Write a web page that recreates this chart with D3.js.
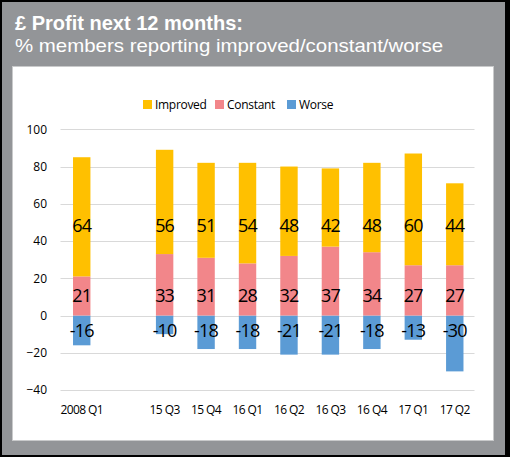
<!DOCTYPE html>
<html><head><meta charset="utf-8">
<script src="https://cdn.jsdelivr.net/npm/d3@7"></script>
<style>body{margin:0;padding:0;}svg{display:block;}</style>
</head><body>
<svg id="chart" width="510" height="457"></svg>
<script>
const categories = ["2008 Q1", "", "15 Q3", "15 Q4", "16 Q1", "16 Q2", "16 Q3", "16 Q4", "17 Q1", "17 Q2"];
const improved = [64, null, 56, 51, 54, 48, 42, 48, 60, 44];
const constant = [21, null, 33, 31, 28, 32, 37, 34, 27, 27];
const worse = [-16, null, -10, -18, -18, -21, -21, -18, -13, -30];
const yTicks = [-40, -20, 0, 20, 40, 60, 80, 100];
const seriesNames = ["Improved", "Constant", "Worse"];
const colors = {Improved: "#FFC000", Constant: "#F2868A", Worse: "#5B9BD5"};

const svg = d3.select("#chart");
const font = "'Open Sans', sans-serif";
const titleFont = "'Liberation Sans', Arial, sans-serif";

svg.append("rect").attr("width", 510).attr("height", 457).attr("fill", "#000");
svg.append("rect").attr("x", 2).attr("y", 2).attr("width", 503).attr("height", 453).attr("fill", "#939598");
svg.append("rect").attr("x", 12.5).attr("y", 66.5).attr("width", 481).attr("height", 374)
  .attr("fill", "#fff").attr("stroke", "#c9cacb").attr("stroke-width", 1);

svg.append("text").attr("x", 15).attr("y", 30).attr("fill", "#fff")
  .attr("font-family", titleFont).attr("font-weight", "bold").attr("font-size", 21)
  .attr("textLength", 228).attr("lengthAdjust", "spacingAndGlyphs")
  .text("£ Profit next 12 months:");
svg.append("text").attr("x", 15).attr("y", 51.5).attr("fill", "#fff")
  .attr("font-family", titleFont).attr("font-size", 19)
  .attr("textLength", 428).attr("lengthAdjust", "spacingAndGlyphs")
  .text("% members reporting improved/constant/worse");

const x = d3.scaleBand().domain(categories.map((c, i) => i)).range([61, 475.5]).paddingInner(0.58).paddingOuter(0.29);
const y = d3.scaleLinear().domain([-40, 100]).range([390, 129.3]);

// gridlines
svg.append("g").selectAll("line").data(yTicks).join("line")
  .attr("x1", 60.5).attr("x2", 474.5)
  .attr("y1", d => Math.round(y(d)) + 0.5).attr("y2", d => Math.round(y(d)) + 0.5)
  .attr("stroke", "#d9d9d9").attr("stroke-width", 1);

// y axis labels
const yAxis = d3.axisLeft(y).tickValues(yTicks).tickSize(0).tickPadding(0);
const gy = svg.append("g").attr("transform", "translate(47,0)").call(yAxis);
gy.select(".domain").remove();
gy.selectAll("text").attr("font-family", font).attr("font-size", 12).attr("fill", "#000");

// x axis labels
const xAxis = d3.axisBottom(x).tickFormat(i => categories[i]).tickSize(0).tickPadding(0);
const gx = svg.append("g").attr("transform", "translate(0,405)").call(xAxis);
gx.select(".domain").remove();
gx.selectAll("text").attr("font-family", font).attr("font-size", 12).attr("fill", "#000").attr("letter-spacing", -0.6);

const rows = categories.map((c, i) => ({i, imp: improved[i], con: constant[i], wor: worse[i]})).filter(d => d.imp !== null);
const bw = x.bandwidth();

const g = svg.append("g");
// worse
g.selectAll(".w").data(rows).join("rect")
  .attr("x", d => x(d.i)).attr("width", bw)
  .attr("y", y(0)).attr("height", d => y(d.wor) - y(0)).attr("fill", colors.Worse);
// constant
g.selectAll(".c").data(rows).join("rect")
  .attr("x", d => x(d.i)).attr("width", bw)
  .attr("y", d => y(d.con)).attr("height", d => y(0) - y(d.con)).attr("fill", colors.Constant);
// improved
g.selectAll(".im").data(rows).join("rect")
  .attr("x", d => x(d.i)).attr("width", bw)
  .attr("y", d => y(d.con + d.imp)).attr("height", d => y(d.con) - y(d.con + d.imp)).attr("fill", colors.Improved);

// labels
const labelLevels = {imp: 48.5, con: 10.4, wor: -8};
["imp", "con", "wor"].forEach(k => {
  svg.append("g").selectAll("text").data(rows).join("text")
    .attr("x", d => x(d.i) + bw / 2).attr("y", y(labelLevels[k]))
    .attr("dy", "0.35em").attr("text-anchor", "middle")
    .attr("font-family", font).attr("font-size", 18).attr("fill", "#000")
    .attr("letter-spacing", -0.8)
    .text(d => d[k]);
});

// legend
const legendX = {Improved: 143, Constant: 215, Worse: 287};
seriesNames.forEach(s => {
  svg.append("rect").attr("x", legendX[s]).attr("y", 100).attr("width", 9).attr("height", 9).attr("fill", colors[s]);
  svg.append("text").attr("x", legendX[s] + 12).attr("y", 104.5).attr("dy", "0.35em")
    .attr("font-family", font).attr("font-size", 12).attr("fill", "#000").attr("letter-spacing", -0.3)
    .text(s);
});
</script>
</body></html>
